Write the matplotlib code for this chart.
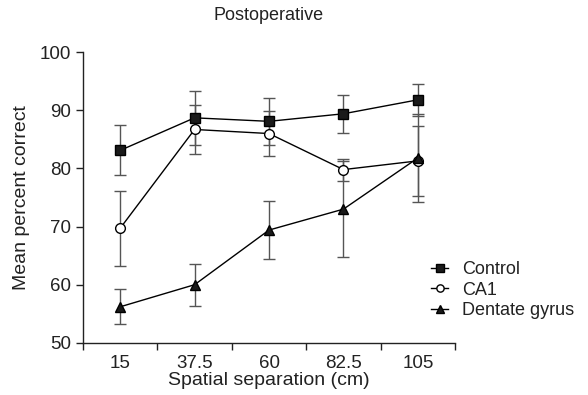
import numpy as np
import matplotlib
matplotlib.use("Agg")
import matplotlib.pyplot as plt

separations = ["15", "37.5", "60", "82.5", "105"]

control = [83.1, 88.7, 88.1, 89.4, 91.8]
control_err = [4.3, 4.7, 4.0, 3.3, 2.8]

ca1 = [69.7, 86.7, 86.0, 79.8, 81.3]
ca1_err = [6.5, 4.2, 3.8, 1.9, 6.0]

dentate = [56.2, 60.0, 69.4, 73.0, 81.8]
dentate_err = [3.0, 3.6, 5.0, 8.2, 7.5]

plt.rcParams['font.family'] = ['Liberation Sans', 'DejaVu Sans']

fig = plt.figure(figsize=(5.88, 3.95), dpi=100)
ax = fig.add_axes([0.141, 0.132, 0.633, 0.736])

x = np.arange(len(separations))
err_kw = dict(ecolor="#555555", elinewidth=1.0, capsize=4, capthick=1.0)

ax.errorbar(x, control, yerr=control_err, color="black", lw=1.0,
            marker="s", ms=7, mfc="#1a1a1a", mec="black", label="Control", **err_kw)
ax.errorbar(x, ca1, yerr=ca1_err, color="black", lw=1.0,
            marker="o", ms=7, mfc="white", mec="black", label="CA1", **err_kw)
ax.errorbar(x, dentate, yerr=dentate_err, color="black", lw=1.0,
            marker="^", ms=7, mfc="#1a1a1a", mec="black", label="Dentate gyrus", **err_kw)

ax.set_xlim(-0.5, len(separations) - 0.5)
ax.set_ylim(50, 100)
ax.set_yticks(range(50, 101, 10))

# ticks sit between categories, labels sit on them
ax.set_xticks(np.arange(-0.5, len(separations), 1.0))
ax.set_xticklabels([])
ax.set_xticks(x, minor=True)
ax.set_xticklabels(separations, minor=True)
ax.tick_params(axis="x", which="minor", length=0, pad=9)
ax.tick_params(axis="both", which="major", direction="out", length=5, width=1,
               labelsize=13.5, colors="#222222")
ax.tick_params(axis="x", which="minor", labelsize=13.5, labelcolor="#222222")

for s in ["top", "right"]:
    ax.spines[s].set_visible(False)
for s in ["left", "bottom"]:
    ax.spines[s].set_linewidth(1.0)
    ax.spines[s].set_color("#222222")

ax.set_xlabel("Spatial separation (cm)", fontsize=14, labelpad=0, color="#222222")
ax.set_ylabel("Mean percent correct", fontsize=14, labelpad=7, color="#222222")
ax.set_title("Postoperative", fontsize=13, pad=23, color="#222222")

handles, labels = ax.get_legend_handles_labels()
handles = [h[0] for h in handles]
leg = ax.legend(handles, labels, loc="lower left", bbox_to_anchor=(0.912, 0.05),
                frameon=False, fontsize=13, handlelength=0.9, handletextpad=0.8,
                labelspacing=0.2, borderpad=0, markerscale=0.75)
for t in leg.get_texts():
    t.set_color("#222222")

fig.savefig("out.png", dpi=100)
